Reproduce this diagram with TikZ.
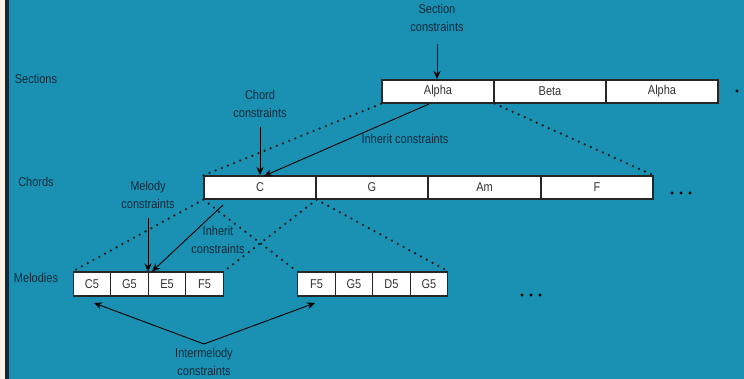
\documentclass[tikz,border=0pt]{standalone}
\usepackage{fontspec}
\setmainfont{Liberation Sans}[FakeStretch=0.86]
\usetikzlibrary{arrows.meta}
\definecolor{bgteal}{HTML}{1A90B2}
\definecolor{labtxt}{HTML}{0F2A3A}
\definecolor{boxtxt}{HTML}{333333}
\definecolor{cream}{HTML}{FBF1E2}
\definecolor{navy}{HTML}{0E2A40}
\tikzset{
  cell/.style={draw=black!85, line width=1.2pt, fill=white, inner sep=0pt,
    minimum height=23pt, text=boxtxt, font=\fontsize{12.8}{14}\selectfont},
  wide/.style={cell, minimum width=112pt},
  narrow/.style={cell, minimum width=37.5pt, minimum height=24pt},
  lab/.style={text=labtxt, align=center, inner sep=0pt,
    font=\fontsize{12.8}{18}\selectfont},
  dots/.style={line width=2.5pt, line cap=round, dash pattern=on 0pt off 6.6pt, draw=black!90},
  arr/.style={draw=black, line width=0.9pt, -{Stealth[length=8pt,width=7pt]}},
}
\begin{document}
\begin{tikzpicture}[x=1pt,y=-1pt]
\useasboundingbox (0,0) rectangle (744,379);
\fill[bgteal] (0,0) rectangle (744,379);
\fill[cream] (0,0) rectangle (5,379);
\fill[navy] (5,0) rectangle (9,379);

% row labels
\node[lab] (lsec) at (36,79) {Sections};
\node[lab] (lcho) at (36,182) {Chords};
\node[lab] (lmel) at (36,278) {Melodies};

% sections
\node[wide] (s1) at (438,91.5) {Alpha};
\node[wide] (s2) at (550,91.5) {Beta};
\node[wide] (s3) at (662,91.5) {Alpha};

% chords
\node[wide] (c1) at (260,187.5) {C};
\node[wide] (c2) at (372,187.5) {G};
\node[wide,minimum width=113pt] (c3) at (484.5,187.5) {Am};
\node[wide] (c4) at (597,187.5) {F};

% melodies
\node[narrow] (m1) at (92,284) {C5};
\node[narrow] (m2) at (129.5,284) {G5};
\node[narrow] (m3) at (167,284) {E5};
\node[narrow] (m4) at (204.5,284) {F5};
\node[narrow] (n1) at (316.5,284) {F5};
\node[narrow] (n2) at (354,284) {G5};
\node[narrow] (n3) at (391.5,284) {D5};
\node[narrow] (n4) at (429,284) {G5};

% ellipses
\foreach \x in {672,681,690} \fill[black] (\x,193) circle (1.7pt);
\foreach \x in {522,531,540} \fill[black] (\x,295) circle (1.7pt);
\fill[black] (737,91) circle (1.7pt);

% dotted expansion lines
\draw[dots] (c1.north west) -- (s1.south west);
\draw[dots] (s1.south east) -- (c4.north east);
\draw[dots] (c1.south west) -- (m1.north west);
\draw[dots] (c1.south west) -- (n1.north west);
\draw[dots] (c1.south east) -- (m4.north east);
\draw[dots] (c1.south east) -- (n4.north east);

% constraint labels and arrows
\node[lab] (secc) at (437,18) {Section\\constraints};
\coordinate (secA) at (437,44);
\draw[arr] (secA) -- (437,79);

\node[lab] (choc) at (260,103.5) {Chord\\constraints};
\coordinate (choA) at (260,127);
\draw[arr] (choA) -- (260,175);

\node[lab] (inh1) at (405,139) {Inherit constraints};
\coordinate (inhS) at (429,104);
\coordinate (inhE) at (264,176);
\draw[arr] (inhS) -- (inhE);

\node[lab] (melc) at (148,194.5) {Melody\\constraints};
\coordinate (melA) at (148,218);
\draw[arr] (melA) -- (148,271.5);

\node[lab] (inh2) at (218,240) {Inherit\\constraints};
\coordinate (inh2S) at (223,205);
\coordinate (inh2E) at (152,271.5);
\draw[arr] (inh2S) -- (inh2E);

\node[lab] (imc) at (204,362) {Intermelody\\constraints};
\coordinate (imA) at (204,344);
\coordinate (imL) at (94,303);
\coordinate (imR) at (315,303);
\draw[arr] (imA) -- (imL);
\draw[arr] (imA) -- (imR);
\end{tikzpicture}
\end{document}
